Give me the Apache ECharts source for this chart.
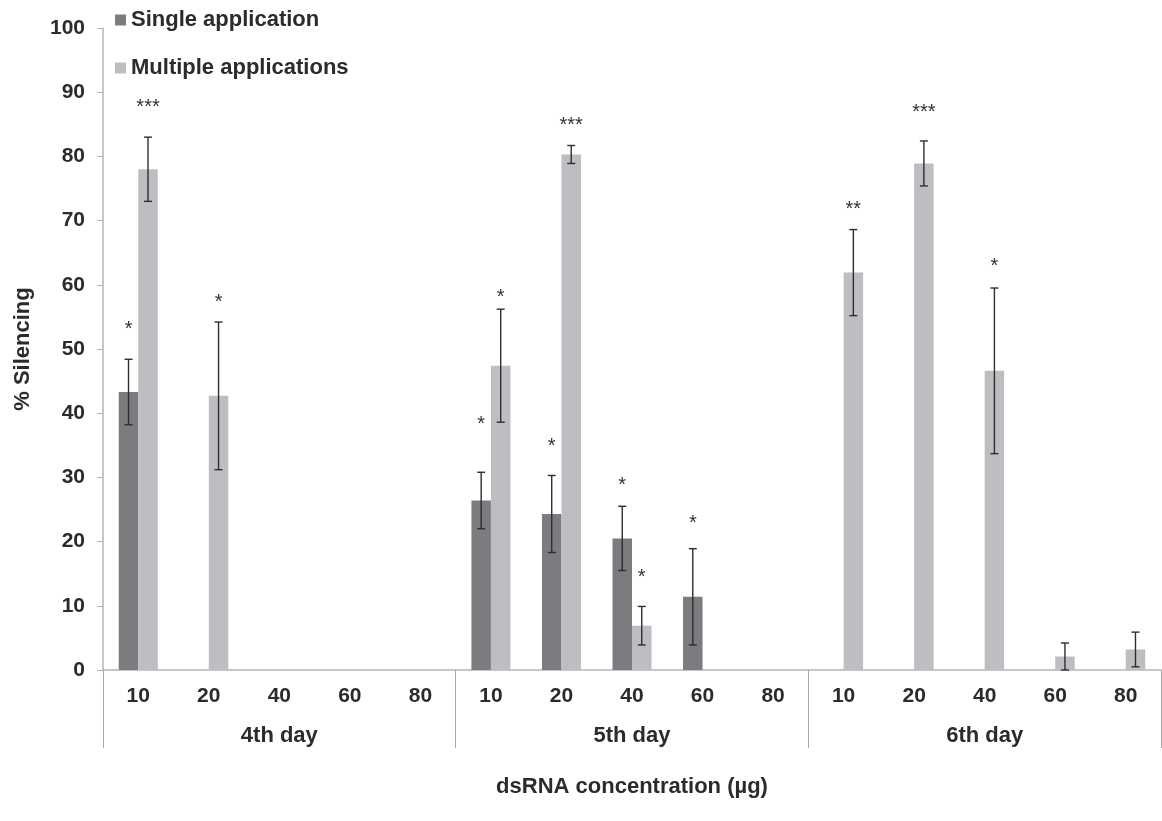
<!DOCTYPE html>
<html>
<head>
<meta charset="utf-8">
<script src="https://cdn.jsdelivr.net/npm/echarts@6/dist/echarts.min.js"></script>
<style>
html, body { margin: 0; padding: 0; background: #fff; }
#main { width: 1162px; height: 821px; }
</style>
</head>
<body>
<div id="main"></div>
<script>
// doses per day and day groups
var doses = ['10', '20', '40', '60', '80'];
var days = ['4th day', '5th day', '6th day'];

// % silencing, 15 bars per series (day x dose)
var single      = [43.3, 0, 0, 0, 0,   26.4, 24.3, 20.5, 11.4, 0,   0, 0, 0, 0, 0];
var singleErr   = [5.1, 0, 0, 0, 0,    4.4, 6.0, 5.0, 7.5, 0,       0, 0, 0, 0, 0];
var multiple    = [78.0, 42.7, 0, 0, 0, 47.4, 80.3, 6.9, 0, 0,      61.9, 78.9, 46.6, 2.1, 3.2];
var multipleErr = [5.0, 11.5, 0, 0, 0,  8.8, 1.4, 3.0, 0, 0,        6.7, 3.5, 12.9, 2.1, 2.7];

// significance marks and the height they sit at
var singleStars    = ['*', '', '', '', '',   '*', '*', '*', '*', '',   '', '', '', '', ''];
var singleStarY    = [53.7, 0, 0, 0, 0,      38.8, 35.4, 29.3, 23.4, 0, 0, 0, 0, 0, 0];
var multipleStars  = ['***', '*', '', '', '', '*', '***', '*', '', '',  '**', '***', '*', '', ''];
var multipleStarY  = [88.3, 57.8, 0, 0, 0,  58.7, 85.5, 15.1, 0, 0,    72.4, 87.4, 63.5, 0, 0];

var yTicks = { min: 0, max: 100, interval: 10 };

var FONT = 'Liberation Sans';
var BAR_W = 19.5;

var cats = [];
days.forEach(function (d) {
    doses.forEach(function (x) { cats.push(d + '|' + x); });
});

// error bar items: [index, value, err, side]
var errItems = [];
single.forEach(function (v, i) {
    if (v > 0) errItems.push([i, v, singleErr[i], -1]);
});
multiple.forEach(function (v, i) {
    if (v > 0) errItems.push([i, v, multipleErr[i], 1]);
});

var starItems = [];
var starText = [];
singleStars.forEach(function (s, i) {
    if (s) { starItems.push([i, singleStarY[i], -1]); starText.push(s); }
});
multipleStars.forEach(function (s, i) {
    if (s) { starItems.push([i, multipleStarY[i], 1]); starText.push(s); }
});

var myChart = echarts.init(document.getElementById('main'));

var option = {
    backgroundColor: '#fff',
    animation: false,
    legend: {
        data: ['Single application', 'Multiple applications'],
        orient: 'vertical',
        left: 110,
        top: 4,
        itemGap: 26,
        itemWidth: 11,
        itemHeight: 11,
        icon: 'rect',
        textStyle: { fontFamily: FONT, fontWeight: 'bold', fontSize: 22, color: '#2b2b2b' }
    },
    grid: { left: 103, right: 1, top: 28, bottom: 151 },
    xAxis: [{
        type: 'category',
        data: cats,
        axisLine: { lineStyle: { color: '#b5b5b5', width: 1.5 } },
        axisTick: { show: false },
        axisLabel: {
            margin: 16,
            interval: 0,
            fontFamily: FONT, fontWeight: 'bold', fontSize: 21, color: '#2b2b2b',
            formatter: function (v) { return v.split('|')[1]; }
        }
    }, {
        type: 'category',
        data: days,
        position: 'bottom',
        axisLine: { show: false },
        axisTick: { show: true, length: 78, lineStyle: { color: '#a8a8a8', width: 1 } },
        axisLabel: { margin: 55, fontFamily: FONT, fontWeight: 'bold', fontSize: 22, color: '#2b2b2b' },
        name: 'dsRNA concentration (µg)',
        nameLocation: 'middle',
        nameGap: 106,
        nameTextStyle: { fontFamily: FONT, fontWeight: 'bold', fontSize: 22, color: '#2b2b2b' }
    }],
    yAxis: {
        type: 'value',
        min: yTicks.min,
        max: yTicks.max,
        interval: yTicks.interval,
        splitLine: { show: false },
        axisLine: { show: true, lineStyle: { color: '#b5b5b5', width: 1.5 } },
        axisTick: { show: true, length: 6, lineStyle: { color: '#b5b5b5' } },
        axisLabel: { margin: 18, fontFamily: FONT, fontWeight: 'bold', fontSize: 21, color: '#2b2b2b' },
        name: '% Silencing',
        nameLocation: 'middle',
        nameGap: 69,
        nameTextStyle: { fontFamily: FONT, fontWeight: 'bold', fontSize: 22, color: '#2b2b2b' }
    },
    series: [{
        name: 'Single application',
        type: 'bar',
        data: single,
        barWidth: BAR_W,
        barGap: '0%',
        itemStyle: { color: '#7b7c80' }
    }, {
        name: 'Multiple applications',
        type: 'bar',
        data: multiple,
        barWidth: BAR_W,
        barGap: '0%',
        itemStyle: { color: '#bdbec1' }
    }, {
        type: 'custom',
        data: errItems,
        z: 5,
        renderItem: function (params, api) {
            var i = api.value(0), v = api.value(1), e = api.value(2), side = api.value(3);
            var hi = api.coord([i, v + e]);
            var lo = api.coord([i, Math.max(v - e, 0)]);
            var x = hi[0] + side * BAR_W / 2;
            var cap = 4;
            var st = { stroke: '#2e2e2e', lineWidth: 1.4 };
            return {
                type: 'group',
                children: [
                    { type: 'line', shape: { x1: x, y1: hi[1], x2: x, y2: lo[1] }, style: st },
                    { type: 'line', shape: { x1: x - cap, y1: hi[1], x2: x + cap, y2: hi[1] }, style: st },
                    { type: 'line', shape: { x1: x - cap, y1: lo[1], x2: x + cap, y2: lo[1] }, style: st }
                ]
            };
        }
    }, {
        type: 'custom',
        data: starItems,
        z: 6,
        renderItem: function (params, api) {
            var p = api.coord([api.value(0), api.value(1)]);
            var side = api.value(2);
            return {
                type: 'text',
                x: p[0] + side * BAR_W / 2,
                y: p[1] + 4,
                style: {
                    text: starText[params.dataIndex],
                    textAlign: 'center',
                    textVerticalAlign: 'middle',
                    font: '20px ' + FONT,
                    fill: '#333'
                }
            };
        }
    }]
};

myChart.setOption(option);
</script>
</body>
</html>
